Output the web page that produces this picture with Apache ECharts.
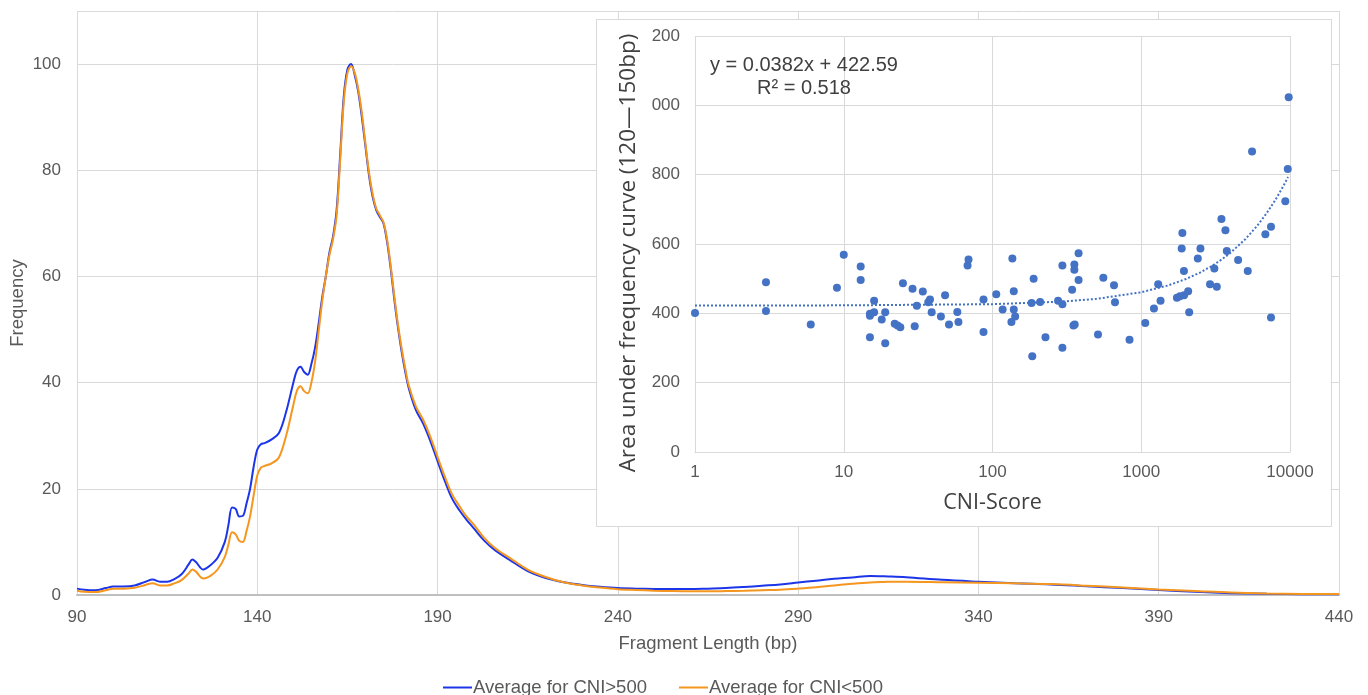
<!DOCTYPE html>
<html><head><meta charset="utf-8">
<script src="https://cdn.jsdelivr.net/npm/echarts@6/dist/echarts.min.js"></script>
<style>html,body{margin:0;padding:0;background:#fff}#c{width:1368px;height:695px}</style>
</head><body><div id="c"></div>
<script>
// ---- main chart data ----
const fragmentLength = [90,92,95,98,100,103,106,109,111,113,115,117,119,121,122,123,125,127,129,131,132,133,134,135,136,137,138,139,140,141,142,144,146,148,150,151,152,153,154,155,156,157,158,159,160,161,162,163,164,165,166,167,168,169,170,171,172,173,174,175,176,177,178,179,180,181,182,184,186,188,190,192,194,196,198,200,203,206,210,215,220,225,230,235,240,245,250,255,260,265,270,275,280,285,290,295,300,305,310,315,320,330,340,350,360,370,380,390,400,410,420,430,440];
const avgCniHigh = [1.2,1.0,0.9,1.3,1.6, 1.6,1.8,2.5,2.9,2.5, 2.5,3.0,3.9,5.8,6.7, 6.2,4.8,5.6,7.0,10.0, 13.2,16.5,16.2,14.8,14.9, 17.2,20.0,24.2,27.4,28.4, 28.6,29.3,30.5,34.5,40.0, 42.3,43.0,42.0,41.5,43.5, 46.5,51.0,56.0,60.0,64.5, 67.5,72.5,83.0,94.0,99.0, 100,98.0,94.8,90.0,84.5, 79.0,75.0,72.5,71.2,70.0, 66.5,61.5,55.7,50.5,46.0, 42.2,39.0,34.8,32.3,29.0, 25.2,21.5,18.2,16.0,14.2, 12.6,10.2,8.4,6.6,4.5, 3.2,2.4,1.9,1.55,1.3, 1.2,1.15,1.12,1.12,1.2, 1.3,1.5,1.75,2.0,2.35, 2.7,3.05,3.3,3.6,3.5, 3.35,2.85,2.5,2.2,2.0, 1.65,1.3,0.95,0.6,0.35, 0.22,0.16,0.13];
const avgCniLow = [0.8,0.6,0.55,0.9,1.2, 1.2,1.35,1.9,2.2,1.8, 1.8,2.2,2.8,4.1,4.8, 4.4,3.1,3.6,4.8,7.2, 9.5,11.8,11.4,10.2,10.0, 12.0,14.8,18.8,22.5,24.0, 24.3,24.8,25.9,30.0,35.8, 38.5,39.3,38.4,38.0,40.0, 43.8,49.5,55.3,60.0,64.0, 67.0,71.5,82.0,93.0,98.3, 99.6,98.4,95.3,90.8,85.0, 79.5,75.5,72.8,71.5,70.2, 67.0,62.0,56.3,51.0,46.6, 42.8,39.5,35.5,33.0,29.8, 26.0,22.3,19.0,16.8,14.8, 13.3,10.7,8.8,7.0,4.8, 3.4,2.4,1.8,1.4,1.1, 0.95,0.82,0.74,0.7,0.7, 0.74,0.8,0.9,1.0,1.2, 1.45,1.8,2.1,2.35,2.5, 2.5,2.4,2.3,2.2,2.05, 1.75,1.4,1.05,0.75,0.45, 0.28,0.2,0.18];
const seriesNames = ['Average for CNI>500', 'Average for CNI<500'];

// ---- inset scatter data ----
const cniScore = [1,3,3,6,9,10,13,13,15,15,15,16,16,18,19,19,22,23,24,25,29,30,31,34,37,38,39,45,48,51,58,59,68,69,87,87,106,117,136,139,139,142,134,183,189,185,209,227,276,295,295,295,343,355,355,350,357,379,379,512,556,656,666,834,1064,1217,1300,1348,1737,1820,1890,1870,1936,1940,2067,2100,2400,2500,2900,3100,3220,3460,3680,3760,4480,5200,5560,6830,7450,7450,9300,9660,9800];
const areaUnderCurve = [401,490,407,368,474,569,535,496,331,399,393,403,436,382,403,314,370,365,360,487,471,363,422,463,432,440,403,391,452,368,404,375,538,555,440,346,455,411,558,464,411,391,375,430,500,276,433,331,436,426,538,301,468,541,526,365,368,573,496,339,503,481,432,324,372,414,484,436,445,449,632,587,522,452,464,403,558,587,484,529,477,672,640,580,554,522,867,628,650,388,723,816,1023];
// trend line points (linear trend y = 0.0382x + 422.59 as drawn)
const trendX = [1,10,100,300,500,1000,1500,2000,2500,3000,3500,4000,5000,6000,7000,8000,9000,9700];
const trendY = [422.6,423.0,426.4,434.1,441.7,460.8,479.9,499.0,518.1,537.2,556.3,575.4,613.6,651.8,690.0,728.2,766.4,793.1];
const equationText = 'y = 0.0382x + 422.59';
const r2Text = 'R\u00b2 = 0.518';

const chart = echarts.init(document.getElementById('c'), null, {renderer: 'canvas'});
const FONT = '"Liberation Sans", Arial, sans-serif';
const FONT2 = '"Open Sans", "Liberation Sans", sans-serif';
const grey = '#595959';
const gridC = '#d9d9d9';

const highData = fragmentLength.map((x, i) => [x, avgCniHigh[i]]);
const lowData = fragmentLength.map((x, i) => [x, avgCniLow[i]]);
const scatterData = cniScore.map((x, i) => [x, areaUnderCurve[i]]);
const trendData = trendX.map((x, i) => [x, trendY[i]]);

chart.setOption({
  animation: false,
  backgroundColor: '#fff',
  textStyle: {fontFamily: FONT},
  legend: {
    data: seriesNames,
    left: 438, top: 673,
    icon: 'rect', itemWidth: 29, itemHeight: 2, itemGap: 32,
    textStyle: {fontFamily: FONT, fontSize: 18.5, color: grey, padding: [0,0,0,-4]}
  },
  grid: [
    {left: 77, right: 29, top: 11, bottom: 100, containLabel: false, outerBoundsMode: 'none'},
    {left: 695, right: 78, top: 36, bottom: 243, containLabel: false, outerBoundsMode: 'none'}
  ],
  xAxis: [
    {
      type: 'value', gridIndex: 0, min: 90, max: 440, interval: 50,
      name: 'Fragment Length (bp)', nameLocation: 'middle', nameGap: 39,
      nameTextStyle: {fontFamily: FONT, fontSize: 18.5, color: grey},
      axisLine: {show: true, lineStyle: {color: '#bfbfbf', width: 2}},
      axisTick: {show: false},
      axisLabel: {fontFamily: FONT, fontSize: 17, color: grey, margin: 14},
      splitLine: {show: true, lineStyle: {color: gridC, width: 1}}
    },
    {
      type: 'log', gridIndex: 1, logBase: 10, min: 1, max: 10000, z: 5,
      name: 'CNI-Score', nameLocation: 'middle', nameGap: 40,
      nameTextStyle: {fontFamily: FONT2, fontSize: 21.5, color: '#404040'},
      axisLine: {show: true, lineStyle: {color: gridC, width: 1}},
      axisTick: {show: false},
      axisLabel: {fontFamily: FONT, fontSize: 17, color: grey, margin: 12,
        formatter: v => String(Math.round(v))},
      splitLine: {show: true, lineStyle: {color: gridC, width: 1}}
    }
  ],
  yAxis: [
    {
      type: 'value', gridIndex: 0, min: 0, max: 110, interval: 20,
      name: 'Frequency', nameLocation: 'middle', nameGap: 50, nameMoveOverlap: false,
      nameTextStyle: {fontFamily: FONT, fontSize: 18.5, color: grey},
      axisLine: {show: false}, axisTick: {show: false},
      axisLabel: {fontFamily: FONT, fontSize: 17, color: grey, margin: 16,
        formatter: v => (v > 100 ? '' : String(v))},
      splitLine: {show: true, lineStyle: {color: gridC, width: 1}}
    },
    {
      type: 'value', gridIndex: 1, min: 0, max: 1200, interval: 200, z: 5,
      name: 'Area under frequency curve (120\u2014150bp)', nameLocation: 'middle', nameGap: 55,
      nameTextStyle: {fontFamily: FONT2, fontSize: 22.5, color: '#404040', padding: [0, 18, 0, 0]},
      axisLine: {show: false}, axisTick: {show: false},
      axisLabel: {fontFamily: FONT, fontSize: 17, color: grey, margin: 15,
        formatter: v => (v >= 1000 ? String(v).slice(1) : String(v))},
      splitLine: {show: true, lineStyle: {color: gridC, width: 1}}
    }
  ],
  graphic: [
    {type: 'rect', z: 3, shape: {x: 596.5, y: 19.5, width: 735, height: 507},
      style: {fill: '#ffffff', stroke: '#d9d9d9', lineWidth: 1}},
    {type: 'text', z: 20, left: 710, top: 55,
      style: {text: equationText, fontFamily: FONT, fontSize: 20, fill: '#404040'}},
    {type: 'text', z: 20, left: 757, top: 78,
      style: {text: r2Text, fontFamily: FONT, fontSize: 20, fill: '#404040'}}
  ],
  series: [
    {name: seriesNames[0], type: 'line', xAxisIndex: 0, yAxisIndex: 0, data: highData,
      smooth: 0.35, showSymbol: false, symbol: 'none', color: '#1c35e8',
      lineStyle: {width: 2, color: '#1c35e8'}, z: 2},
    {name: seriesNames[1], type: 'line', xAxisIndex: 0, yAxisIndex: 0, data: lowData,
      smooth: 0.35, showSymbol: false, symbol: 'none', color: '#f5961e',
      lineStyle: {width: 2, color: '#f5961e'}, z: 2},
    {name: 'trend', type: 'line', xAxisIndex: 1, yAxisIndex: 1, data: trendData,
      smooth: false, showSymbol: false, symbol: 'none',
      lineStyle: {width: 2, color: '#4472c4', type: 'dotted'}, z: 10},
    {name: 'scatter', type: 'scatter', xAxisIndex: 1, yAxisIndex: 1, data: scatterData,
      symbolSize: 8, itemStyle: {color: '#4472c4', opacity: 1}, z: 11}
  ]
});
</script>
</body></html>
